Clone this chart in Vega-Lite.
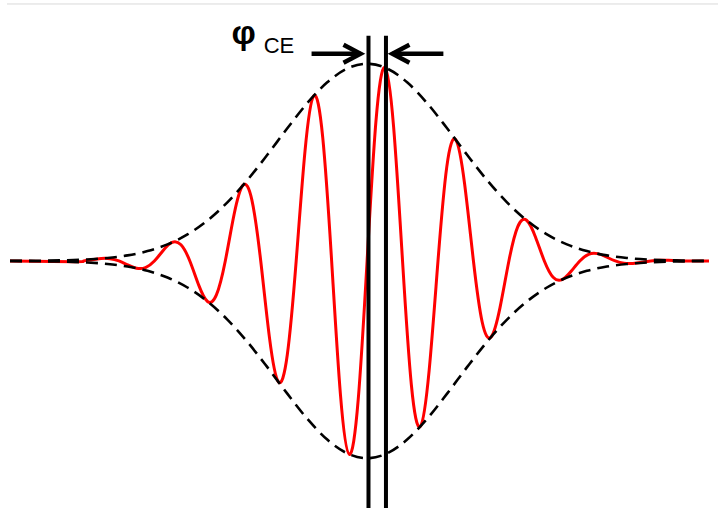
{
  "$schema": "https://vega.github.io/schema/vega-lite/v6.json",
  "autosize": {"type": "fit", "contains": "padding"},
  "width": 719,
  "height": 510,
  "padding": 0,
  "background": "white",
  "config": {"view": {"stroke": null}},
  "datasets": {
    "red": [
      {"x": 10, "y": 0}, {"x": 74.7, "y": -0.69}, {"x": 83.6, "y": 0}, {"x": 92.4, "y": 1.29},
      {"x": 101.3, "y": 2.45}, {"x": 110.2, "y": 2.31}, {"x": 119.1, "y": 0}, {"x": 127.9, "y": -3.98},
      {"x": 136.8, "y": -7.29}, {"x": 145.7, "y": -6.62}, {"x": 154.6, "y": 0}, {"x": 163.4, "y": 10.56},
      {"x": 172.3, "y": 18.61}, {"x": 181.2, "y": 16.24}, {"x": 190.1, "y": 0}, {"x": 198.9, "y": -24.0},
      {"x": 207.8, "y": -40.65}, {"x": 216.7, "y": -34.1}, {"x": 225.6, "y": 0}, {"x": 234.4, "y": 46.61},
      {"x": 243.3, "y": 75.95}, {"x": 252.2, "y": 61.27}, {"x": 261.1, "y": 0}, {"x": 269.9, "y": -77.45},
      {"x": 278.8, "y": -121.37}, {"x": 287.7, "y": -94.18}, {"x": 296.6, "y": 0}, {"x": 305.4, "y": 110.12},
      {"x": 314.3, "y": 165.94}, {"x": 323.2, "y": 123.84}, {"x": 332.1, "y": 0}, {"x": 340.9, "y": -133.93},
      {"x": 349.8, "y": -194.12}, {"x": 358.7, "y": -139.3}, {"x": 367.6, "y": 0}, {"x": 376.4, "y": 139.35},
      {"x": 385.3, "y": 194.24}, {"x": 394.2, "y": 134.05}, {"x": 403.1, "y": 0}, {"x": 411.9, "y": -124.03},
      {"x": 420.8, "y": -166.28}, {"x": 429.7, "y": -110.37}, {"x": 438.6, "y": 0}, {"x": 447.4, "y": 94.46},
      {"x": 456.3, "y": 121.77}, {"x": 465.2, "y": 77.73}, {"x": 474.1, "y": 0}, {"x": 482.9, "y": -61.53},
      {"x": 491.8, "y": -76.31}, {"x": 500.7, "y": -46.85}, {"x": 509.6, "y": 0}, {"x": 518.4, "y": 34.29},
      {"x": 527.3, "y": 40.91}, {"x": 536.2, "y": 24.15}, {"x": 545.1, "y": 0}, {"x": 553.9, "y": -16.36},
      {"x": 562.8, "y": -18.75}, {"x": 571.7, "y": -10.65}, {"x": 580.6, "y": 0}, {"x": 589.4, "y": 6.68},
      {"x": 598.3, "y": 7.36}, {"x": 607.2, "y": 4.02}, {"x": 616.1, "y": 0}, {"x": 624.9, "y": -2.33},
      {"x": 633.8, "y": -2.47}, {"x": 642.7, "y": -1.3}, {"x": 651.6, "y": 0}, {"x": 660.4, "y": 0.69},
      {"x": 669.3, "y": 0.71}, {"x": 678.2, "y": 0.36}, {"x": 687.1, "y": 0}, {"x": 710, "y": 0}
    ],
    "env": [
      {"s": "up", "x": 10, "y": 0.07}, {"s": "up", "x": 27.7, "y": 0.15}, {"s": "up", "x": 47.7, "y": 0.35},
      {"s": "up", "x": 67.7, "y": 0.75}, {"s": "up", "x": 87.7, "y": 1.54}, {"s": "up", "x": 107.7, "y": 3.01},
      {"s": "up", "x": 127.7, "y": 5.59}, {"s": "up", "x": 147.7, "y": 9.89}, {"s": "up", "x": 167.7, "y": 16.63},
      {"s": "up", "x": 187.7, "y": 26.63}, {"s": "up", "x": 207.7, "y": 40.57}, {"s": "up", "x": 227.7, "y": 58.83},
      {"s": "up", "x": 247.7, "y": 81.18}, {"s": "up", "x": 267.7, "y": 106.6}, {"s": "up", "x": 287.7, "y": 133.21},
      {"s": "up", "x": 307.7, "y": 158.44}, {"s": "up", "x": 327.7, "y": 179.33}, {"s": "up", "x": 347.7, "y": 193.15},
      {"s": "up", "x": 367.7, "y": 198}, {"s": "up", "x": 387.7, "y": 193.15}, {"s": "up", "x": 407.7, "y": 179.33},
      {"s": "up", "x": 427.7, "y": 158.44}, {"s": "up", "x": 447.7, "y": 133.21}, {"s": "up", "x": 467.7, "y": 106.6},
      {"s": "up", "x": 487.7, "y": 81.18}, {"s": "up", "x": 507.7, "y": 58.83}, {"s": "up", "x": 527.7, "y": 40.57},
      {"s": "up", "x": 547.7, "y": 26.63}, {"s": "up", "x": 567.7, "y": 16.63}, {"s": "up", "x": 587.7, "y": 9.89},
      {"s": "up", "x": 607.7, "y": 5.59}, {"s": "up", "x": 627.7, "y": 3.01}, {"s": "up", "x": 647.7, "y": 1.54},
      {"s": "up", "x": 667.7, "y": 0.75}, {"s": "up", "x": 687.7, "y": 0.35}, {"s": "up", "x": 707.7, "y": 0.15},
      {"s": "up", "x": 710, "y": 0.14},
      {"s": "dn", "x": 10, "y": -0.07}, {"s": "dn", "x": 27.7, "y": -0.15}, {"s": "dn", "x": 47.7, "y": -0.35},
      {"s": "dn", "x": 67.7, "y": -0.75}, {"s": "dn", "x": 87.7, "y": -1.54}, {"s": "dn", "x": 107.7, "y": -3.01},
      {"s": "dn", "x": 127.7, "y": -5.59}, {"s": "dn", "x": 147.7, "y": -9.89}, {"s": "dn", "x": 167.7, "y": -16.63},
      {"s": "dn", "x": 187.7, "y": -26.63}, {"s": "dn", "x": 207.7, "y": -40.57}, {"s": "dn", "x": 227.7, "y": -58.83},
      {"s": "dn", "x": 247.7, "y": -81.18}, {"s": "dn", "x": 267.7, "y": -106.6}, {"s": "dn", "x": 287.7, "y": -133.21},
      {"s": "dn", "x": 307.7, "y": -158.44}, {"s": "dn", "x": 327.7, "y": -179.33}, {"s": "dn", "x": 347.7, "y": -193.15},
      {"s": "dn", "x": 367.7, "y": -198}, {"s": "dn", "x": 387.7, "y": -193.15}, {"s": "dn", "x": 407.7, "y": -179.33},
      {"s": "dn", "x": 427.7, "y": -158.44}, {"s": "dn", "x": 447.7, "y": -133.21}, {"s": "dn", "x": 467.7, "y": -106.6},
      {"s": "dn", "x": 487.7, "y": -81.18}, {"s": "dn", "x": 507.7, "y": -58.83}, {"s": "dn", "x": 527.7, "y": -40.57},
      {"s": "dn", "x": 547.7, "y": -26.63}, {"s": "dn", "x": 567.7, "y": -16.63}, {"s": "dn", "x": 587.7, "y": -9.89},
      {"s": "dn", "x": 607.7, "y": -5.59}, {"s": "dn", "x": 627.7, "y": -3.01}, {"s": "dn", "x": 647.7, "y": -1.54},
      {"s": "dn", "x": 667.7, "y": -0.75}, {"s": "dn", "x": 687.7, "y": -0.35}, {"s": "dn", "x": 707.7, "y": -0.15},
      {"s": "dn", "x": 710, "y": -0.14}
    ],
    "vlines": [
      {"x": 369, "y": 226, "y2": -248},
      {"x": 386.5, "y": 226, "y2": -248}
    ],
    "arrows": [
      {"part": "shaftL", "o": 1, "x": 312, "y": 208}, {"part": "shaftL", "o": 2, "x": 361, "y": 208},
      {"part": "headL", "o": 1, "x": 344, "y": 217}, {"part": "headL", "o": 2, "x": 361, "y": 208}, {"part": "headL", "o": 3, "x": 344, "y": 199},
      {"part": "shaftR", "o": 1, "x": 444, "y": 208}, {"part": "shaftR", "o": 2, "x": 393, "y": 208},
      {"part": "headR", "o": 1, "x": 410, "y": 217}, {"part": "headR", "o": 2, "x": 393, "y": 208}, {"part": "headR", "o": 3, "x": 410, "y": 199}
    ],
    "top": [{"x": 7, "x2": 719, "y": 258}]
  },
  "layer": [
    {
      "data": {"name": "top"},
      "mark": {"type": "rule", "color": "#d9d9d9", "strokeWidth": 1},
      "encoding": {
        "x": {"field": "x", "type": "quantitative", "scale": {"domain": [0, 719], "nice": false, "zero": false}, "axis": null},
        "x2": {"field": "x2"},
        "y": {"field": "y", "type": "quantitative", "scale": {"domain": [-248, 262], "nice": false, "zero": false}, "axis": null}
      }
    },
    {
      "data": {"name": "red"},
      "mark": {"type": "line", "color": "#ff0000", "strokeWidth": 3, "interpolate": "natural"},
      "encoding": {
        "x": {"field": "x", "type": "quantitative", "scale": {"domain": [0, 719], "nice": false, "zero": false}, "axis": null},
        "y": {"field": "y", "type": "quantitative", "scale": {"domain": [-248, 262], "nice": false, "zero": false}, "axis": null}
      }
    },
    {
      "data": {"name": "env"},
      "mark": {"type": "line", "color": "#000000", "strokeWidth": 2.6, "strokeDash": [12, 7], "interpolate": "monotone"},
      "encoding": {
        "x": {"field": "x", "type": "quantitative", "scale": {"domain": [0, 719], "nice": false, "zero": false}, "axis": null},
        "y": {"field": "y", "type": "quantitative", "scale": {"domain": [-248, 262], "nice": false, "zero": false}, "axis": null},
        "detail": {"field": "s", "type": "nominal"}
      }
    },
    {
      "data": {"name": "vlines"},
      "mark": {"type": "rule", "color": "#000000", "strokeWidth": 4},
      "encoding": {
        "x": {"field": "x", "type": "quantitative", "scale": {"domain": [0, 719], "nice": false, "zero": false}, "axis": null},
        "y": {"field": "y", "type": "quantitative", "scale": {"domain": [-248, 262], "nice": false, "zero": false}, "axis": null},
        "y2": {"field": "y2"}
      }
    },
    {
      "data": {"name": "arrows"},
      "mark": {"type": "line", "color": "#000000", "strokeWidth": 4.5, "strokeJoin": "miter", "strokeCap": "butt"},
      "encoding": {
        "x": {"field": "x", "type": "quantitative", "scale": {"domain": [0, 719], "nice": false, "zero": false}, "axis": null},
        "y": {"field": "y", "type": "quantitative", "scale": {"domain": [-248, 262], "nice": false, "zero": false}, "axis": null},
        "detail": {"field": "part", "type": "nominal"},
        "order": {"field": "o", "type": "quantitative"}
      }
    },
    {
      "data": {"values": [{"t": "φ", "x": 244, "y": 218}]},
      "mark": {"type": "text", "font": "Liberation Sans", "fontWeight": "bold", "fontSize": 34, "align": "center", "baseline": "alphabetic", "color": "#000000"},
      "encoding": {
        "x": {"field": "x", "type": "quantitative", "scale": {"domain": [0, 719], "nice": false, "zero": false}, "axis": null},
        "y": {"field": "y", "type": "quantitative", "scale": {"domain": [-248, 262], "nice": false, "zero": false}, "axis": null},
        "text": {"field": "t"}
      }
    },
    {
      "data": {"values": [{"t": "CE", "x": 264, "y": 209}]},
      "mark": {"type": "text", "font": "Liberation Sans", "fontSize": 22, "align": "left", "baseline": "alphabetic", "color": "#000000"},
      "encoding": {
        "x": {"field": "x", "type": "quantitative", "scale": {"domain": [0, 719], "nice": false, "zero": false}, "axis": null},
        "y": {"field": "y", "type": "quantitative", "scale": {"domain": [-248, 262], "nice": false, "zero": false}, "axis": null},
        "text": {"field": "t"}
      }
    }
  ]
}
